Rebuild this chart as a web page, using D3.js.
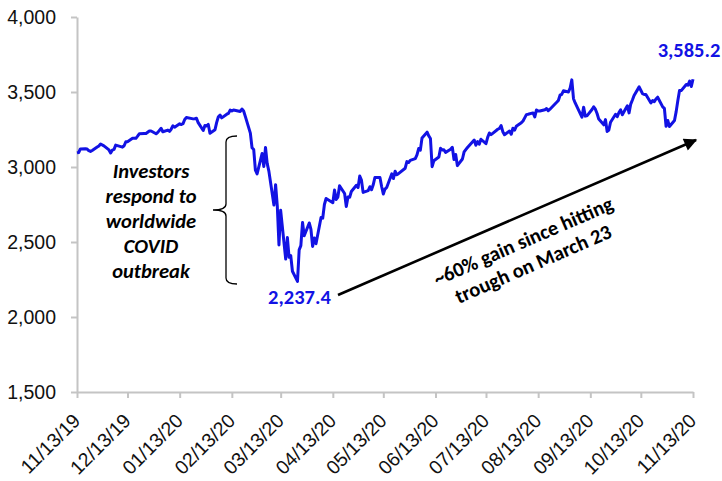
<!DOCTYPE html>
<html>
<head>
<meta charset="utf-8">
<script src="https://cdn.jsdelivr.net/npm/d3@7"></script>
<style>
  body { margin: 0; background: #fff; }
  svg { display: block; font-family: Carlito, Calibri, Lato, sans-serif; }
</style>
</head>
<body>
<svg id="chart" width="722" height="481"></svg>
<script>
// S&P 500 daily closes, 11/13/19 - 11/13/20
const dates = [
  "2019-11-13","2019-11-14","2019-11-15","2019-11-18","2019-11-19","2019-11-20","2019-11-21","2019-11-22","2019-11-25","2019-11-26","2019-11-27","2019-11-29",
  "2019-12-02","2019-12-03","2019-12-04","2019-12-05","2019-12-06","2019-12-09","2019-12-10","2019-12-11","2019-12-12","2019-12-13","2019-12-16","2019-12-17","2019-12-18","2019-12-19","2019-12-20","2019-12-23","2019-12-24","2019-12-26","2019-12-27","2019-12-30","2019-12-31",
  "2020-01-02","2020-01-03","2020-01-06","2020-01-07","2020-01-08","2020-01-09","2020-01-10","2020-01-13","2020-01-14","2020-01-15","2020-01-16","2020-01-17","2020-01-21","2020-01-22","2020-01-23","2020-01-24","2020-01-27","2020-01-28","2020-01-29","2020-01-30","2020-01-31",
  "2020-02-03","2020-02-04","2020-02-05","2020-02-06","2020-02-07","2020-02-10","2020-02-11","2020-02-12","2020-02-13","2020-02-14","2020-02-18","2020-02-19","2020-02-20","2020-02-21","2020-02-24","2020-02-25","2020-02-26","2020-02-27","2020-02-28",
  "2020-03-02","2020-03-03","2020-03-04","2020-03-05","2020-03-06","2020-03-09","2020-03-10","2020-03-11","2020-03-12","2020-03-13","2020-03-16","2020-03-17","2020-03-18","2020-03-19","2020-03-20","2020-03-23","2020-03-24","2020-03-25","2020-03-26","2020-03-27","2020-03-30","2020-03-31",
  "2020-04-01","2020-04-02","2020-04-03","2020-04-06","2020-04-07","2020-04-08","2020-04-09","2020-04-13","2020-04-14","2020-04-15","2020-04-16","2020-04-17","2020-04-20","2020-04-21","2020-04-22","2020-04-23","2020-04-24","2020-04-27","2020-04-28","2020-04-29","2020-04-30",
  "2020-05-01","2020-05-04","2020-05-05","2020-05-06","2020-05-07","2020-05-08","2020-05-11","2020-05-12","2020-05-13","2020-05-14","2020-05-15","2020-05-18","2020-05-19","2020-05-20","2020-05-21","2020-05-22","2020-05-26","2020-05-27","2020-05-28","2020-05-29",
  "2020-06-01","2020-06-02","2020-06-03","2020-06-04","2020-06-05","2020-06-08","2020-06-09","2020-06-10","2020-06-11","2020-06-12","2020-06-15","2020-06-16","2020-06-17","2020-06-18","2020-06-19","2020-06-22","2020-06-23","2020-06-24","2020-06-25","2020-06-26","2020-06-29","2020-06-30",
  "2020-07-01","2020-07-02","2020-07-06","2020-07-07","2020-07-08","2020-07-09","2020-07-10","2020-07-13","2020-07-14","2020-07-15","2020-07-16","2020-07-17","2020-07-20","2020-07-21","2020-07-22","2020-07-23","2020-07-24","2020-07-27","2020-07-28","2020-07-29","2020-07-30","2020-07-31",
  "2020-08-03","2020-08-04","2020-08-05","2020-08-06","2020-08-07","2020-08-10","2020-08-11","2020-08-12","2020-08-13","2020-08-14","2020-08-17","2020-08-18","2020-08-19","2020-08-20","2020-08-21","2020-08-24","2020-08-25","2020-08-26","2020-08-27","2020-08-28","2020-08-31",
  "2020-09-01","2020-09-02","2020-09-03","2020-09-04","2020-09-08","2020-09-09","2020-09-10","2020-09-11","2020-09-14","2020-09-15","2020-09-16","2020-09-17","2020-09-18","2020-09-21","2020-09-22","2020-09-23","2020-09-24","2020-09-25","2020-09-28","2020-09-29","2020-09-30",
  "2020-10-01","2020-10-02","2020-10-05","2020-10-06","2020-10-07","2020-10-08","2020-10-09","2020-10-12","2020-10-13","2020-10-14","2020-10-15","2020-10-16","2020-10-19","2020-10-20","2020-10-21","2020-10-22","2020-10-23","2020-10-26","2020-10-27","2020-10-28","2020-10-29","2020-10-30",
  "2020-11-02","2020-11-03","2020-11-04","2020-11-05","2020-11-06","2020-11-09","2020-11-10","2020-11-11","2020-11-12","2020-11-13"
];
const closes = [
  3094.0,3096.6,3120.5,3122.0,3120.2,3108.5,3103.5,3110.3,3133.6,3140.5,3153.6,3141.0,
  3113.9,3093.2,3112.8,3117.4,3145.9,3136.0,3132.5,3141.6,3168.6,3168.8,3191.5,3192.5,3191.1,3205.4,3221.2,3224.0,3223.4,3239.9,3240.0,3221.3,3230.8,
  3257.9,3234.9,3246.3,3237.2,3253.1,3274.7,3265.4,3288.1,3283.2,3289.3,3316.8,3329.6,3320.8,3321.8,3325.5,3295.5,3243.6,3276.2,3273.4,3283.7,3225.5,
  3248.9,3297.6,3334.7,3345.8,3327.7,3352.1,3357.8,3379.5,3373.9,3380.2,3370.3,3386.2,3373.2,3337.8,3225.9,3128.2,3116.4,2978.8,2954.2,
  3090.2,3003.4,3130.1,3023.9,2972.4,2746.6,2882.2,2741.4,2480.6,2711.0,2386.1,2529.2,2398.1,2409.4,2304.9,2237.4,2447.3,2475.6,2630.1,2541.5,2626.7,2584.6,
  2470.5,2526.9,2488.7,2663.7,2659.4,2750.0,2789.8,2761.6,2846.1,2783.4,2799.6,2874.6,2823.2,2736.6,2799.3,2797.8,2836.7,2878.5,2863.4,2939.5,2912.4,
  2830.7,2842.7,2868.4,2848.4,2881.2,2929.8,2930.3,2870.1,2820.0,2852.5,2863.7,2953.9,2922.9,2971.6,2948.5,2955.5,2991.8,3036.1,3029.7,3044.3,
  3055.7,3080.8,3122.9,3112.4,3193.9,3232.4,3207.2,3190.1,3002.1,3041.3,3066.6,3124.7,3113.5,3115.3,3097.7,3117.9,3131.3,3050.3,3083.8,3009.1,3053.2,3100.3,
  3115.9,3130.0,3179.7,3145.3,3169.9,3152.1,3185.0,3155.2,3197.5,3226.6,3215.6,3224.7,3251.8,3257.3,3276.0,3235.7,3215.6,3239.4,3218.4,3258.4,3246.2,3271.1,
  3294.6,3306.5,3327.8,3349.2,3351.3,3360.5,3333.7,3380.4,3373.4,3372.9,3382.0,3389.8,3374.9,3385.5,3397.2,3431.3,3443.6,3478.7,3484.6,3508.0,3500.3,
  3526.7,3580.8,3455.1,3427.0,3331.8,3399.0,3339.2,3341.0,3383.5,3401.2,3385.5,3357.0,3319.5,3281.1,3315.6,3236.9,3246.6,3298.5,3351.6,3335.5,3363.0,
  3380.8,3348.4,3408.6,3361.0,3419.5,3446.8,3477.1,3534.2,3511.9,3488.7,3483.3,3483.8,3426.9,3443.1,3435.6,3453.5,3465.4,3401.0,3390.7,3271.0,3310.1,3270.0,
  3310.2,3369.2,3443.4,3510.5,3509.4,3550.5,3545.5,3572.7,3537.0,3585.2
];
const xTickDates = ["2019-11-13","2019-12-13","2020-01-13","2020-02-13","2020-03-13","2020-04-13","2020-05-13","2020-06-13","2020-07-13","2020-08-13","2020-09-13","2020-10-13","2020-11-13"];
const yTicks = [1500, 2000, 2500, 3000, 3500, 4000];
const braceText = ["Investors", "respond to", "worldwide", "COVID", "outbreak"];
const arrowText = ["~60% gain since hitting", "trough on March 23"];

const lineColor = "#1212e4";
const parse = d3.timeParse("%Y-%m-%d");
const data = dates.map((d, i) => ({ date: parse(d), value: closes[i] }));

const svg = d3.select("#chart");
const plot = { left: 77, right: 693, top: 17, bottom: 392 };

const x = d3.scaleTime([parse(dates[0]), parse(dates[dates.length - 1])], [plot.left, plot.right]);
const y = d3.scaleLinear([1500, 4000], [plot.bottom, plot.top]);

// y axis
const yAxis = svg.append("g")
    .attr("transform", `translate(${plot.left},0)`)
    .call(d3.axisLeft(y).tickValues(yTicks).tickFormat(d3.format(",")).tickSize(6).tickSizeOuter(0).tickPadding(15));

// x axis
const xAxis = svg.append("g")
    .attr("transform", `translate(0,${plot.bottom})`)
    .call(d3.axisBottom(x).tickValues(xTickDates.map(parse)).tickSize(6).tickSizeOuter(0));

[yAxis, xAxis].forEach(g => {
    g.select(".domain").attr("stroke", "#c4c4c4").attr("stroke-width", 2);
    g.selectAll(".tick line").attr("stroke", "#c4c4c4").attr("stroke-width", 2);
    g.selectAll("text").attr("fill", "#111").style("font-size", "19.5px");
});

// rotated date labels
xAxis.selectAll("text")
    .attr("text-anchor", "end")
    .attr("dy", null)
    .attr("y", null)
    .attr("transform", "translate(4,30) rotate(-45)")
    .text(d => d3.timeFormat("%m/%d/%y")(d));

// series line
svg.append("path")
    .datum(data)
    .attr("fill", "none")
    .attr("stroke", lineColor)
    .attr("stroke-width", 3)
    .attr("stroke-linejoin", "round")
    .attr("d", d3.line().x(d => x(d.date)).y(d => y(d.value)));

// value callouts
const trough = data[d3.minIndex(data, d => d.value)];
const last = data[data.length - 1];
const fmt = d3.format(",.1f");

svg.append("text")
    .attr("x", x(trough.date) + 2)
    .attr("y", y(trough.value) + 23)
    .attr("text-anchor", "middle")
    .attr("fill", lineColor)
    .style("font-size", "20.5px").style("font-weight", "bold")
    .text(fmt(trough.value));

svg.append("text")
    .attr("x", x(last.date) - 4)
    .attr("y", y(last.value) - 22)
    .attr("text-anchor", "middle")
    .attr("fill", lineColor)
    .style("font-size", "20.5px").style("font-weight", "bold")
    .text(fmt(last.value));

// brace annotation
svg.append("path")
    .attr("fill", "none")
    .attr("stroke", "#000")
    .attr("stroke-width", 1.3)
    .attr("d", "M237,136 Q226,136 226,142 L226,204 Q226,210 213,210 Q226,210 226,216 L226,278 Q226,284 237,284");

svg.append("g")
    .selectAll("text")
    .data(braceText)
    .join("text")
    .attr("x", 151)
    .attr("y", (d, i) => 178 + i * 25)
    .attr("text-anchor", "middle")
    .style("font-size", "20.5px").style("font-weight", "bold").style("font-style", "italic")
    .text(d => d);

// arrow annotation
svg.append("defs").append("marker")
    .attr("id", "head")
    .attr("viewBox", "0 0 10 10")
    .attr("refX", 9).attr("refY", 5)
    .attr("markerWidth", 6).attr("markerHeight", 5)
    .attr("markerUnits", "strokeWidth")
    .attr("orient", "auto")
    .append("path").attr("d", "M0,0 L10,5 L0,10 Z").attr("fill", "#000");

svg.append("line")
    .attr("x1", 338).attr("y1", 295)
    .attr("x2", 696).attr("y2", 140)
    .attr("stroke", "#000")
    .attr("stroke-width", 2.6)
    .attr("marker-end", "url(#head)");

svg.append("g")
    .attr("transform", "translate(528,252) rotate(-23.5)")
    .selectAll("text")
    .data(arrowText)
    .join("text")
    .attr("x", 0)
    .attr("y", (d, i) => i * 25 - 5)
    .attr("text-anchor", "middle")
    .style("font-size", "20.5px").style("font-weight", "bold")
    .text(d => d);
</script>
</body>
</html>
